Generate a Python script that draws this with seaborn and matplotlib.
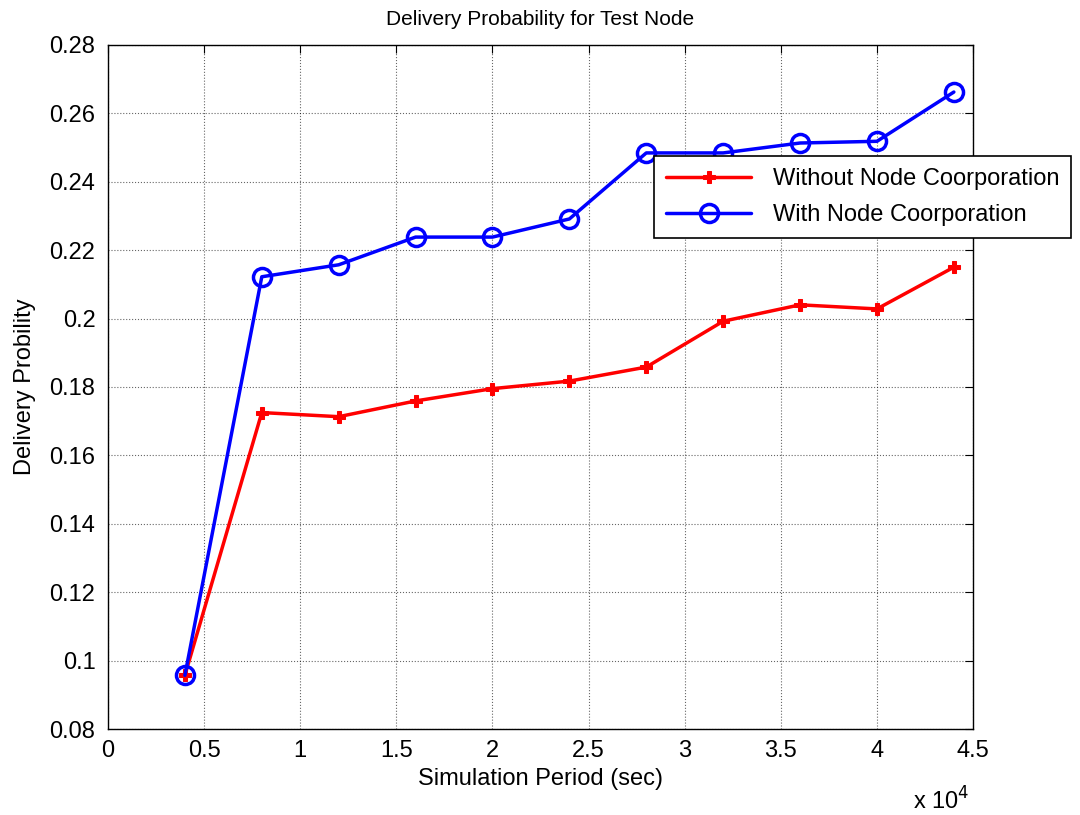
import numpy as np
import pandas as pd
import seaborn as sns
import matplotlib.pyplot as plt

# data
period = [4000, 8000, 12000, 16000, 20000, 24000, 28000, 32000, 36000, 40000, 44000]
without_coop = [0.0957, 0.1725, 0.1713, 0.1759, 0.1795, 0.1817, 0.1858, 0.1992, 0.2040, 0.2028, 0.2150]
with_coop = [0.0957, 0.2122, 0.2157, 0.2238, 0.2238, 0.2291, 0.2484, 0.2484, 0.2513, 0.2518, 0.2662]

df = pd.DataFrame({
    'period': period * 2,
    'prob': without_coop + with_coop,
    'series': ['Without Node Coorporation'] * len(period) + ['With Node Coorporation'] * len(period),
})

sns.set_style('white')
plt.rcParams['font.family'] = ['Liberation Sans', 'DejaVu Sans']
plt.rcParams['text.color'] = 'black'
plt.rcParams['axes.labelcolor'] = 'black'

fig = plt.figure(figsize=(10.8, 8.15), dpi=100)
ax = fig.add_axes([0.1, 0.1055, 0.801, 0.8395])

sns.lineplot(data=df[df.series == 'Without Node Coorporation'], x='period', y='prob',
             color='red', linewidth=2.5, marker='P', markersize=9, markeredgecolor='red',
             label='Without Node Coorporation', ax=ax)
sns.lineplot(data=df[df.series == 'With Node Coorporation'], x='period', y='prob',
             color='blue', linewidth=2.5, marker='o', markersize=13, markerfacecolor='none',
             markeredgecolor='blue', markeredgewidth=2.5,
             label='With Node Coorporation', ax=ax)

ax.set_xlim(0, 45000)
ax.set_ylim(0.08, 0.28)
xt = np.arange(0, 45001, 5000)
ax.set_xticks(xt)
ax.set_xticklabels(['0', '0.5', '1', '1.5', '2', '2.5', '3', '3.5', '4', '4.5'])
yt = np.arange(0.08, 0.2801, 0.02)
ax.set_yticks(yt)
ax.set_yticklabels(['0.08', '0.1', '0.12', '0.14', '0.16', '0.18', '0.2', '0.22', '0.24', '0.26', '0.28'])
ax.tick_params(direction='in', length=6, labelsize=17, top=True, right=True, colors='black')
ax.tick_params(axis='y', pad=9)
ax.tick_params(axis='x', pad=8)
ax.grid(True, color='black', linestyle=':', linewidth=0.8, alpha=0.6)
for s in ax.spines.values():
    s.set_color('black')
    s.set_linewidth(1)

ax.set_title('Delivery Probability for Test Node', fontsize=15, pad=14)
ax.set_xlabel('Simulation Period (sec)', fontsize=17, labelpad=4)
ax.set_ylabel('Delivery Probility', fontsize=17, labelpad=10)
ax.text(0.93, -0.085, r'x 10$^4$', transform=ax.transAxes, fontsize=17, ha='left', va='top')

leg = ax.legend(loc='upper left', bbox_to_anchor=(0.606, 0.808), bbox_transform=fig.transFigure,
                borderaxespad=0, fontsize=17, frameon=True, fancybox=False, framealpha=1,
                edgecolor='black', handlelength=3.6, handletextpad=0.9,
                borderpad=0.5, labelspacing=0.6)
leg.get_frame().set_linewidth(1.2)

fig.savefig('out.png', dpi=100)
